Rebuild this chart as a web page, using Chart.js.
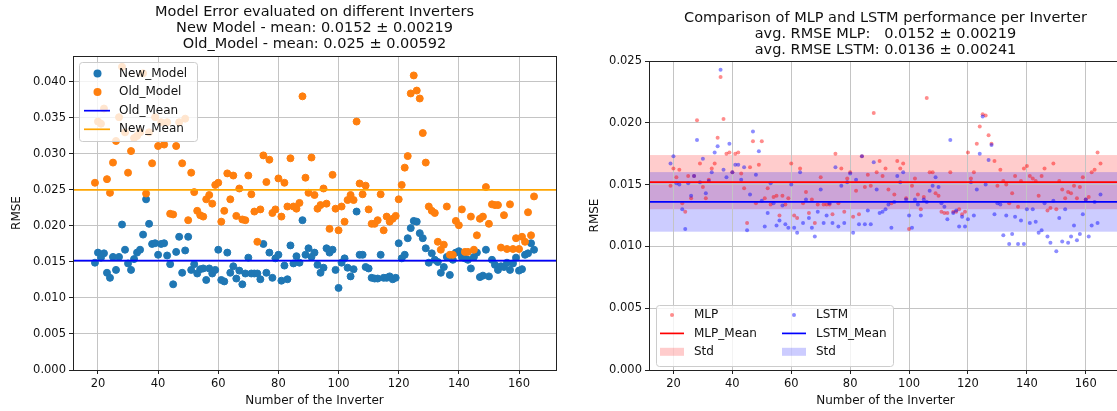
<!DOCTYPE html>
<html lang="en">
<head>
<meta charset="UTF-8">
<title>Inverter RMSE</title>
<script src="https://cdn.jsdelivr.net/npm/chart.js"></script>
<style>
  html, body { margin: 0; padding: 0; background: #fff; overflow: hidden; }
  body { width: 1117px; height: 411px; position: relative; }
  canvas { position: absolute; top: 0; }
  #errorChart { left: 0; }
  #compareChart { left: 585px; }
</style>
</head>
<body>
<canvas id="errorChart" width="629" height="411"></canvas>
<canvas id="compareChart" width="601" height="411"></canvas>
<script>
// inverter numbers (x axis)
const inverters = [
  19, 20, 21, 22, 23, 24, 25, 26, 27, 28,
  29, 30, 31, 32, 33, 34, 35, 36, 37, 38,
  39, 40, 41, 42, 43, 44, 45, 46, 47, 48,
  49, 50, 51, 52, 53, 54, 55, 56, 57, 58,
  59, 60, 61, 62, 63, 64, 65, 66, 67, 68,
  69, 70, 71, 72, 73, 74, 75, 76, 77, 78,
  79, 80, 81, 82, 83, 84, 85, 86, 87, 88,
  89, 90, 91, 92, 93, 94, 95, 96, 97, 98,
  99, 100, 101, 102, 103, 104, 105, 106, 107, 108,
  109, 110, 111, 112, 113, 114, 115, 116, 117, 118,
  119, 120, 121, 122, 123, 124, 125, 126, 127, 128,
  129, 130, 131, 132, 133, 134, 135, 136, 137, 138,
  139, 140, 141, 142, 143, 144, 145, 146, 147, 148,
  149, 150, 151, 152, 153, 154, 155, 156, 157, 158,
  159, 160, 161, 162, 163, 164, 165
];

// RMSE of the new model (= MLP on the right plot)
const newModel = [
  0.0149, 0.0163, 0.0156, 0.0162, 0.0135, 0.0128, 0.0157, 0.0139, 0.0157, 0.0202,
  0.0167, 0.0148, 0.0139, 0.0154, 0.0163, 0.0167, 0.0188, 0.0237, 0.0203, 0.0175,
  0.0176, 0.0160, 0.0175, 0.0176, 0.0159, 0.0147, 0.0119, 0.0164, 0.0185, 0.0135,
  0.0166, 0.0185, 0.0139, 0.0147, 0.0134, 0.0140, 0.0141, 0.0125, 0.0141, 0.0134,
  0.0139, 0.0167, 0.0125, 0.0123, 0.0163, 0.0135, 0.0144, 0.0127, 0.0138, 0.0119,
  0.0134, 0.0156, 0.0134, 0.0134, 0.0134, 0.0126, 0.0175, 0.0135, 0.0163, 0.0128,
  0.0155, 0.0160, 0.0124, 0.0145, 0.0126, 0.0173, 0.0148, 0.0158, 0.0149, 0.0208,
  0.0160, 0.0169, 0.0157, 0.0163, 0.0146, 0.0135, 0.0142, 0.0169, 0.0163, 0.0167,
  0.0139, 0.0114, 0.0149, 0.0155, 0.0142, 0.0130, 0.0140, 0.0220, 0.0160, 0.0160,
  0.0143, 0.0141, 0.0128, 0.0127, 0.0127, 0.0160, 0.0128, 0.0128, 0.0130, 0.0126,
  0.0128, 0.0176, 0.0155, 0.0160, 0.0183, 0.0197, 0.0207, 0.0206, 0.0190, 0.0183,
  0.0169, 0.0149, 0.0162, 0.0153, 0.0150, 0.0135, 0.0143, 0.0157, 0.0132, 0.0153,
  0.0163, 0.0165, 0.0157, 0.0155, 0.0153, 0.0141, 0.0157, 0.0163, 0.0129, 0.0131,
  0.0167, 0.0130, 0.0153, 0.0146, 0.0139, 0.0144, 0.0143, 0.0149, 0.0139, 0.0148,
  0.0156, 0.0138, 0.0140, 0.0160, 0.0162, 0.0176, 0.0167
];

// RMSE of the old model
const oldModel = [
  0.0260, 0.0345, 0.0342, 0.0363, 0.0265, 0.0246, 0.0288, 0.0318, 0.0351, 0.0421,
  0.0330, 0.0274, 0.0304, 0.0322, 0.0325, 0.0330, 0.0412, 0.0245, 0.0330, 0.0287,
  0.0351, 0.0311, 0.0344, 0.0313, 0.0344, 0.0217, 0.0216, 0.0311, 0.0344, 0.0287,
  0.0349, 0.0208, 0.0274, 0.0247, 0.0221, 0.0215, 0.0213, 0.0237, 0.0243, 0.0231,
  0.0257, 0.0260, 0.0206, 0.0221, 0.0273, 0.0237, 0.0270, 0.0214, 0.0252, 0.0209,
  0.0208, 0.0270, 0.0244, 0.0220, 0.0178, 0.0223, 0.0298, 0.0261, 0.0292, 0.0218,
  0.0223, 0.0266, 0.0213, 0.0260, 0.0227, 0.0294, 0.0227, 0.0224, 0.0232, 0.0380,
  0.0267, 0.0246, 0.0295, 0.0243, 0.0224, 0.0229, 0.0252, 0.0231, 0.0196, 0.0271,
  0.0224, 0.0194, 0.0227, 0.0206, 0.0236, 0.0243, 0.0236, 0.0345, 0.0259, 0.0244,
  0.0256, 0.0223, 0.0203, 0.0203, 0.0208, 0.0244, 0.0194, 0.0213, 0.0206, 0.0210,
  0.0214, 0.0237, 0.0257, 0.0281, 0.0297, 0.0384, 0.0409, 0.0388, 0.0377, 0.0329,
  0.0288, 0.0227, 0.0221, 0.0218, 0.0178, 0.0167, 0.0174, 0.0227, 0.0160, 0.0160,
  0.0207, 0.0201, 0.0223, 0.0164, 0.0164, 0.0213, 0.0167, 0.0187, 0.0210, 0.0213,
  0.0254, 0.0203, 0.0230, 0.0229, 0.0229, 0.0170, 0.0215, 0.0168, 0.0230, 0.0168,
  0.0183, 0.0168, 0.0185, 0.0178, 0.0219, 0.0187, 0.0241
];

// RMSE of the LSTM
const lstm = [
  0.0167, 0.0173, 0.0151, 0.0150, 0.0130, 0.0114, 0.0151, 0.0141, 0.0157, 0.0186,
  0.0152, 0.0171, 0.0143, 0.0153, 0.0160, 0.0176, 0.0181, 0.0243, 0.0162, 0.0156,
  0.0183, 0.0160, 0.0166, 0.0166, 0.0154, 0.0164, 0.0113, 0.0142, 0.0193, 0.0158,
  0.0177, 0.0137, 0.0116, 0.0127, 0.0151, 0.0135, 0.0117, 0.0121, 0.0133, 0.0118,
  0.0115, 0.0150, 0.0115, 0.0111, 0.0160, 0.0119, 0.0138, 0.0123, 0.0115, 0.0108,
  0.0128, 0.0146, 0.0119, 0.0125, 0.0135, 0.0119, 0.0164, 0.0116, 0.0149, 0.0119,
  0.0152, 0.0159, 0.0111, 0.0154, 0.0118, 0.0173, 0.0118, 0.0129, 0.0118, 0.0168,
  0.0146, 0.0127, 0.0128, 0.0130, 0.0134, 0.0115, 0.0136, 0.0157, 0.0152, 0.0160,
  0.0138, 0.0125, 0.0115, 0.0138, 0.0134, 0.0125, 0.0138, 0.0136, 0.0145, 0.0149,
  0.0156, 0.0148, 0.0135, 0.0132, 0.0122, 0.0186, 0.0127, 0.0129, 0.0116, 0.0124,
  0.0116, 0.0122, 0.0152, 0.0125, 0.0146, 0.0175, 0.0205, 0.0150, 0.0170, 0.0182,
  0.0126, 0.0135, 0.0134, 0.0109, 0.0125, 0.0102, 0.0110, 0.0124, 0.0102, 0.0121,
  0.0102, 0.0130, 0.0119, 0.0130, 0.0120, 0.0111, 0.0113, 0.0135, 0.0108, 0.0103,
  0.0137, 0.0096, 0.0123, 0.0104, 0.0130, 0.0103, 0.0108, 0.0117, 0.0105, 0.0110,
  0.0126, 0.0138, 0.0108, 0.0117, 0.0136, 0.0119, 0.0142
];

// summary stats shown in the titles
const NEW_MEAN = 0.0152, NEW_STD = 0.00219;
const OLD_MEAN = 0.025;
const LSTM_MEAN = 0.0136, LSTM_STD = 0.00241;

const X_MIN = 11.7, X_MAX = 172.3;
const X_TICKS_STEP = 20;
const Y_STEP = 0.005;

const leftTitle = [
  'Model Error evaluated on different Inverters',
  'New Model - mean: 0.0152 \u00b1 0.00219',
  'Old_Model - mean: 0.025 \u00b1 0.00592'
];
const rightTitle = [
  'Comparison of MLP and LSTM performance per Inverter',
  'avg. RMSE MLP:   0.0152 \u00b1 0.00219',
  'avg. RMSE LSTM: 0.0136 \u00b1 0.00241'
];

const FONT = "'DejaVu Sans', sans-serif";
Chart.defaults.font.family = FONT;
Chart.defaults.font.size = 11.5;
Chart.defaults.color = '#111';

const BLUE = '#1f77b4', ORANGE = '#ff7f0e';

function points(ys) {
  return inverters.map((x, i) => ({ x: x, y: ys[i] }));
}
function hline(y) {
  return [{ x: X_MIN, y: y }, { x: X_MAX, y: y }];
}

function makeScales(yMax, yWidth, yTitlePad) {
  return {
    x: {
      type: 'linear', min: X_MIN, max: X_MAX,
      afterFit: s => { s.height = 41; },
      ticks: { stepSize: X_TICKS_STEP, includeBounds: false, padding: 3 },
      grid: { color: '#c4c4c4', lineWidth: 1, tickColor: '#222', tickLength: 4 },
      border: { color: '#222', width: 1 },
      title: { display: true, text: 'Number of the Inverter', font: { size: 12 },
               padding: { top: 0, bottom: 2.5 } }
    },
    y: {
      type: 'linear', min: 0, max: yMax,
      afterFit: s => { s.width = yWidth; },
      ticks: { stepSize: Y_STEP, includeBounds: false, padding: 3, callback: v => v.toFixed(3) },
      grid: { color: '#c4c4c4', lineWidth: 1, tickColor: '#222', tickLength: 4 },
      border: { color: '#222', width: 1 },
      title: { display: true, text: 'RMSE', font: { size: 12 }, padding: { top: yTitlePad, bottom: 0 } }
    }
  };
}

function titlePlugin(lines, firstY) {
  return {
    id: 'stackedTitle',
    afterDraw(chart) {
      const ctx = chart.ctx, a = chart.chartArea;
      ctx.save();
      ctx.font = '14.5px ' + FONT;
      ctx.fillStyle = '#111';
      ctx.textAlign = 'center';
      ctx.textBaseline = 'middle';
      lines.forEach((t, i) => ctx.fillText(t, (a.left + a.right) / 2, firstY + i * 15.8));
      ctx.restore();
    }
  };
}

const frame = {
  id: 'frame',
  afterDatasetsDraw(chart) {
    const ctx = chart.ctx, a = chart.chartArea;
    ctx.save();
    ctx.strokeStyle = '#222';
    ctx.lineWidth = 1;
    ctx.strokeRect(Math.round(a.left) + 0.5, Math.round(a.top) + 0.5,
      Math.round(a.right - a.left), Math.round(a.bottom - a.top));
    ctx.restore();
  }
};

function legendBox(ctx, x, y, w, h) {
  ctx.beginPath();
  ctx.roundRect(x + 0.5, y + 0.5, w, h, 3);
  ctx.fillStyle = 'rgba(255,255,255,0.8)';
  ctx.fill();
  ctx.strokeStyle = '#cccccc';
  ctx.lineWidth = 1;
  ctx.stroke();
}

const errorLegend = {
  id: 'errorLegend',
  afterDraw(chart) {
    const ctx = chart.ctx, a = chart.chartArea;
    const x0 = a.left + 6, y0 = a.top + 6;
    ctx.save();
    legendBox(ctx, x0, y0, 118, 79);
    const items = [
      ['New_Model', 'dot', BLUE], ['Old_Model', 'dot', ORANGE],
      ['Old_Mean', 'line', '#0000ff'], ['New_Mean', 'line', '#ffa500']
    ];
    ctx.font = '12px ' + FONT;
    ctx.textBaseline = 'middle';
    items.forEach(([label, kind, color], i) => {
      const y = y0 + 11.5 + i * 18.6;
      if (kind === 'dot') {
        ctx.beginPath();
        ctx.arc(x0 + 18.5, y, 4, 0, Math.PI * 2);
        ctx.fillStyle = color;
        ctx.fill();
      } else {
        ctx.beginPath();
        ctx.moveTo(x0 + 5, y);
        ctx.lineTo(x0 + 31, y);
        ctx.strokeStyle = color;
        ctx.lineWidth = 1.7;
        ctx.stroke();
      }
      ctx.fillStyle = '#111';
      ctx.fillText(label, x0 + 40, y);
    });
    ctx.restore();
  }
};

// left plot
new Chart(document.getElementById('errorChart'), {
  type: 'scatter',
  data: {
    datasets: [
      { label: 'New_Mean', data: hline(OLD_MEAN), showLine: true, borderColor: '#ffa500',
        borderWidth: 1.7, pointRadius: 0, order: 0 },
      { label: 'Old_Mean', data: hline(NEW_MEAN), showLine: true, borderColor: '#0000ff',
        borderWidth: 1.7, pointRadius: 0, order: 1 },
      { label: 'Old_Model', data: points(oldModel), backgroundColor: ORANGE, borderColor: ORANGE,
        borderWidth: 1, pointRadius: 3.5, order: 2 },
      { label: 'New_Model', data: points(newModel), backgroundColor: BLUE, borderColor: BLUE,
        borderWidth: 1, pointRadius: 3.5, order: 3 }
    ]
  },
  options: {
    responsive: false,
    animation: false,
    events: [],
    layout: { padding: { left: 0, right: 73, top: 56, bottom: 0 } },
    scales: makeScales(0.0436, 73, 10),
    plugins: { legend: { display: false }, tooltip: { enabled: false } }
  },
  plugins: [frame, errorLegend, titlePlugin(leftTitle, 12.6)]
});

// right plot
const stdBands = {
  id: 'stdBands',
  beforeDraw(chart) {
    const { ctx, chartArea: a, scales: { y } } = chart;
    ctx.save();
    [[NEW_MEAN, NEW_STD, 'rgba(255,0,0,0.2)'], [LSTM_MEAN, LSTM_STD, 'rgba(0,0,255,0.2)']]
      .forEach(([m, s, c]) => {
        const top = y.getPixelForValue(m + s), bot = y.getPixelForValue(m - s);
        ctx.fillStyle = c;
        ctx.fillRect(a.left, top, a.right - a.left, bot - top);
      });
    ctx.restore();
  }
};

const compareLegend = {
  id: 'compareLegend',
  afterDraw(chart) {
    const ctx = chart.ctx, a = chart.chartArea;
    const x0 = a.left + 7, y0 = a.bottom - 65;
    ctx.save();
    legendBox(ctx, x0, y0, 237, 61);
    const cols = [
      [['MLP', 'dot', 'rgba(255,0,0,0.45)'], ['MLP_Mean', 'line', '#ff0000'], ['Std', 'patch', 'rgba(255,0,0,0.2)']],
      [['LSTM', 'dot', 'rgba(0,0,255,0.45)'], ['LSTM_Mean', 'line', '#0000ff'], ['Std', 'patch', 'rgba(0,0,255,0.2)']]
    ];
    ctx.font = '12px ' + FONT;
    ctx.textBaseline = 'middle';
    cols.forEach((col, c) => {
      const cx = x0 + c * 122;
      col.forEach(([label, kind, color], i) => {
        const y = y0 + 10 + i * 18.4;
        if (kind === 'dot') {
          ctx.beginPath();
          ctx.arc(cx + 16, y, 2, 0, Math.PI * 2);
          ctx.fillStyle = color;
          ctx.fill();
        } else if (kind === 'line') {
          ctx.beginPath();
          ctx.moveTo(cx + 4, y);
          ctx.lineTo(cx + 28, y);
          ctx.strokeStyle = color;
          ctx.lineWidth = 1.7;
          ctx.stroke();
        } else {
          ctx.fillStyle = color;
          ctx.fillRect(cx + 4, y - 4, 24, 8);
        }
        ctx.fillStyle = '#111';
        ctx.fillText(label, cx + 38, y);
      });
    });
    ctx.restore();
  }
};

new Chart(document.getElementById('compareChart'), {
  type: 'scatter',
  data: {
    datasets: [
      { label: 'LSTM_Mean', data: hline(LSTM_MEAN), showLine: true, borderColor: '#0000ff',
        borderWidth: 1.7, pointRadius: 0, order: 0 },
      { label: 'MLP_Mean', data: hline(NEW_MEAN), showLine: true, borderColor: '#ff0000',
        borderWidth: 1.7, pointRadius: 0, order: 1 },
      { label: 'LSTM', data: points(lstm), backgroundColor: 'rgba(0,0,255,0.45)',
        borderWidth: 0, pointRadius: 2, order: 2 },
      { label: 'MLP', data: points(newModel), backgroundColor: 'rgba(255,0,0,0.45)',
        borderWidth: 0, pointRadius: 2, order: 3 }
    ]
  },
  options: {
    responsive: false,
    animation: false,
    events: [],
    layout: { padding: { left: 0, right: 64, top: 61, bottom: 0 } },
    scales: makeScales(0.025, 64, 3),
    plugins: { legend: { display: false }, tooltip: { enabled: false } }
  },
  plugins: [stdBands, frame, compareLegend, titlePlugin(rightTitle, 18.4)]
});
</script>
</body>
</html>
